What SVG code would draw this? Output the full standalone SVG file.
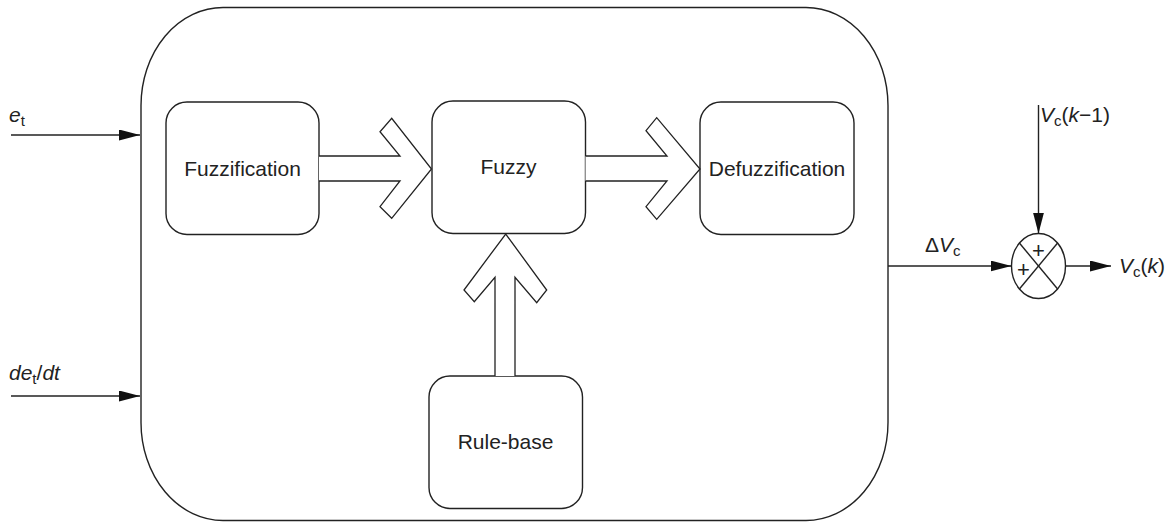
<svg xmlns="http://www.w3.org/2000/svg" width="1169" height="523" viewBox="0 0 1169 523">
<style>
.box{fill:#fff;stroke:#222;stroke-width:1.4}
.ln{fill:none;stroke:#222;stroke-width:1.4}
.fat{fill:#fff;stroke:#222;stroke-width:1.3;stroke-linejoin:miter}
.t{font-family:"Liberation Sans",Arial,sans-serif;font-size:21px;fill:#222}
.lb{font-family:"Liberation Sans",Arial,sans-serif;font-size:21px;fill:#222}
.pl{font-family:"Liberation Sans",Arial,sans-serif;font-size:22px;fill:#222}
.it{font-style:italic}
.sub{font-size:15px}
</style>
<defs>
<marker id="ah" markerUnits="userSpaceOnUse" markerWidth="22" markerHeight="12" refX="21" refY="5.5" orient="auto">
<path d="M0,0 L21,5.5 L0,11 z" fill="#111"/>
</marker>
</defs>
<rect fill="#fff" x="0" y="0" width="1169" height="523"/>
<g id="controller">
<rect class="box" x="141" y="7.5" width="747" height="513" rx="82" ry="98"/>
</g>
<g id="fuzzification">
<rect class="box" x="166" y="102" width="153" height="132.5" rx="21" ry="21"/>
<text class="t" x="242.5" y="175.5" text-anchor="middle">Fuzzification</text>
</g>
<g id="fuzzy">
<rect class="box" x="432" y="101" width="153.5" height="132.5" rx="21" ry="21"/>
<text class="t" x="508.5" y="174" text-anchor="middle">Fuzzy</text>
</g>
<g id="defuzzification">
<rect class="box" x="700" y="102" width="154" height="132.5" rx="21" ry="21"/>
<text class="t" x="777" y="175.5" text-anchor="middle">Defuzzification</text>
</g>
<g id="rulebase">
<rect class="box" x="429" y="376" width="153.5" height="132.5" rx="21" ry="21"/>
<text class="t" x="505.5" y="449" text-anchor="middle">Rule-base</text>
</g>
<g id="sum">
<ellipse class="box" cx="1038.5" cy="266" rx="27" ry="32.5"/>
<line class="ln" x1="1019.4" y1="243" x2="1057.6" y2="289"/>
<line class="ln" x1="1057.6" y1="243" x2="1019.4" y2="289"/>
<text class="pl" x="1038.5" y="257.5" text-anchor="middle">+</text>
<text class="pl" x="1023.5" y="276.5" text-anchor="middle">+</text>
</g>
<g id="connectors">
<path class="fat" d="M319,156 L400,156 L380,131.7 L391.7,118.3 L431.5,169 L391.7,218.3 L380,206.7 L400,181 L319,181"/>
<path class="fat" d="M585.5,156 L667,156 L646,130.7 L656.7,117.7 L700,169 L656.7,219.3 L646,206.7 L667,181 L585.5,181"/>
<path class="fat" d="M495,376 L495,277.3 L474.3,301.7 L464,290 L505.7,234 L546.7,290 L536.7,302.7 L515,277.3 L515,376"/>
<line class="ln" x1="11" y1="135" x2="140" y2="135" marker-end="url(#ah)"/>
<line class="ln" x1="11" y1="396" x2="140" y2="396" marker-end="url(#ah)"/>
<line class="ln" x1="888" y1="266" x2="1011.5" y2="266" marker-end="url(#ah)"/>
<line class="ln" x1="1038.5" y1="105" x2="1038.5" y2="233.5" marker-end="url(#ah)"/>
<line class="ln" x1="1065.5" y1="266" x2="1111" y2="266" marker-end="url(#ah)"/>
</g>
<g id="labels">
<text class="lb" x="9" y="122"><tspan class="it">e</tspan><tspan class="sub" dy="4">t</tspan></text>
<text class="lb" x="9" y="380"><tspan class="it">de</tspan><tspan class="sub" dy="4">t</tspan><tspan dy="-4">/</tspan><tspan class="it">dt</tspan></text>
<text class="lb" x="925" y="252">Δ<tspan class="it">V</tspan><tspan class="sub" dy="4">c</tspan></text>
<text class="lb" x="1040" y="122"><tspan class="it">V</tspan><tspan class="sub" dy="4">c</tspan><tspan dy="-4">(</tspan><tspan class="it">k</tspan>−1)</text>
<text class="lb" x="1119" y="273"><tspan class="it">V</tspan><tspan class="sub" dy="4">c</tspan><tspan dy="-4">(</tspan><tspan class="it">k</tspan>)</text>
</g>
</svg>
